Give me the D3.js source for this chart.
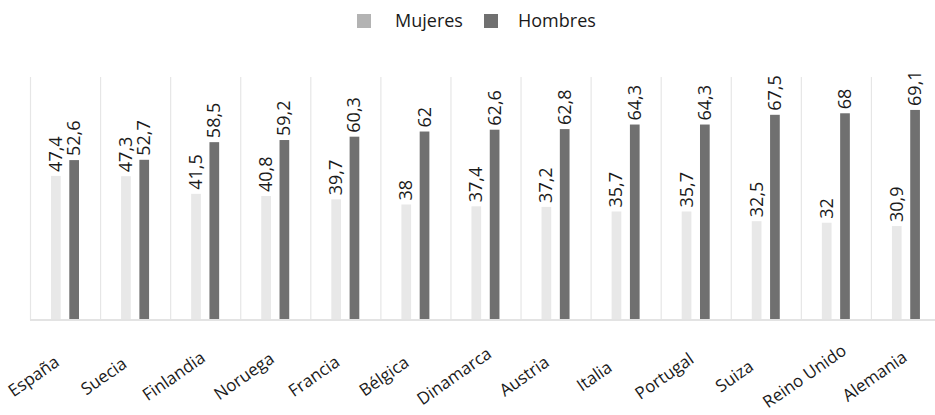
<!DOCTYPE html>
<html>
<head>
<meta charset="utf-8">
<script src="https://cdn.jsdelivr.net/npm/d3@7"></script>
<style>
  body { margin: 0; background: #fff; }
  text { font-family: "Open Sans", sans-serif; fill: #1a1a1a; }
</style>
</head>
<body>
<script>
// datos
var paises = ["España", "Suecia", "Finlandia", "Noruega", "Francia", "Bélgica", "Dinamarca",
              "Austria", "Italia", "Portugal", "Suiza", "Reino Unido", "Alemania"];
var mujeres = [47.4, 47.3, 41.5, 40.8, 39.7, 38, 37.4, 37.2, 35.7, 35.7, 32.5, 32, 30.9];
var hombres = [52.6, 52.7, 58.5, 59.2, 60.3, 62, 62.6, 62.8, 64.3, 64.3, 67.5, 68, 69.1];
var series = ["Mujeres", "Hombres"];

var width = 935, height = 415;
var barColors = {Mujeres: "#e8e8e8", Hombres: "#707070"};
var legendColors = {Mujeres: "#b3b3b3", Hombres: "#707070"};

var svg = d3.select("body").append("svg")
    .attr("width", width)
    .attr("height", height);

// escalas
var x = d3.scaleBand().domain(paises).range([30, 941]);
var x1 = d3.scaleBand().domain(series).range([21, 49]).paddingInner(0.47);
var y = d3.scaleLinear().domain([0, 100]).range([320, 16]);

// separadores verticales
svg.selectAll("line.sep")
    .data(d3.range(paises.length + 1))
    .enter().append("line")
    .attr("class", "sep")
    .attr("x1", function(i) { return 30 + i * x.step() + 0.5; })
    .attr("x2", function(i) { return 30 + i * x.step() + 0.5; })
    .attr("y1", 77)
    .attr("y2", 320)
    .attr("stroke", "#e6e6e6")
    .attr("stroke-width", 1.2);

// barras
var rows = paises.map(function(p, i) {
  return {pais: p, valores: [{s: "Mujeres", v: mujeres[i]}, {s: "Hombres", v: hombres[i]}]};
});

var g = svg.selectAll("g.pais")
    .data(rows)
    .enter().append("g")
    .attr("class", "pais")
    .attr("transform", function(d) { return "translate(" + x(d.pais) + ",0)"; });

g.selectAll("rect")
    .data(function(d) { return d.valores; })
    .enter().append("rect")
    .attr("x", function(d) { return x1(d.s); })
    .attr("width", x1.bandwidth())
    .attr("y", function(d) { return y(d.v); })
    .attr("height", function(d) { return y(0) - y(d.v); })
    .attr("fill", function(d) { return barColors[d.s]; });

// etiquetas de valor (giradas)
g.selectAll("text.valor")
    .data(function(d) { return d.valores; })
    .enter().append("text")
    .attr("class", "valor")
    .attr("font-size", 18)
    .attr("transform", function(d) {
      var cx = x1(d.s) + x1.bandwidth() / 2 + 6;
      return "translate(" + cx + "," + (y(d.v) - 4) + ") rotate(-90)";
    })
    .text(function(d) { return String(d.v).replace(".", ","); });

// linea base
svg.append("line")
    .attr("x1", 30).attr("x2", width)
    .attr("y1", 320).attr("y2", 320)
    .attr("stroke", "#e3e3e3")
    .attr("stroke-width", 2);

// etiquetas del eje x
svg.selectAll("text.eje")
    .data(paises)
    .enter().append("text")
    .attr("class", "eje")
    .attr("text-anchor", "middle")
    .attr("font-size", 17)
    .attr("transform", function(d) {
      var cx = x(d) + x.bandwidth() / 2 - 28;
      return "translate(" + cx + ",381) rotate(-35)";
    })
    .text(function(d) { return d; });

// leyenda
var leg = svg.selectAll("g.leyenda")
    .data(series)
    .enter().append("g")
    .attr("class", "leyenda")
    .attr("transform", function(d, i) { return "translate(" + (i === 0 ? 357 : 484) + ",0)"; });

leg.append("rect")
    .attr("x", 0).attr("y", 14)
    .attr("width", 14).attr("height", 14)
    .attr("fill", function(d) { return legendColors[d]; });

leg.append("text")
    .attr("x", function(d, i) { return i === 0 ? 38 : 34; })
    .attr("y", 27)
    .attr("font-size", 18)
    .text(function(d) { return d; });
</script>
</body>
</html>
